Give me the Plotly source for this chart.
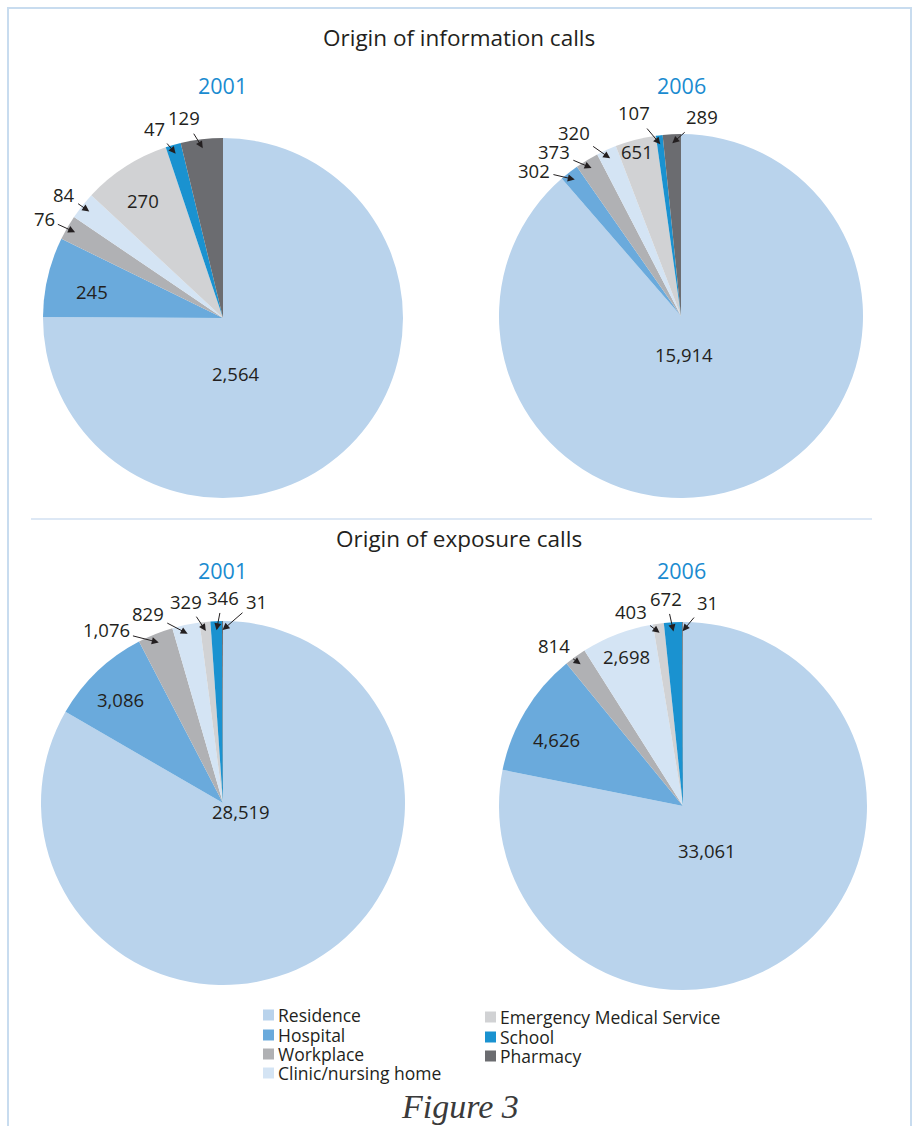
import math
import plotly.graph_objects as go

W, H = 916, 1126

# Call origins, in clockwise order starting at 12 o'clock
categories = ["Residence", "Hospital", "Workplace", "Clinic/nursing home",
              "Emergency Medical Service", "School", "Pharmacy"]
colors = ["#b9d3ec", "#6aaadc", "#b0b1b4", "#d4e4f4", "#d1d2d4", "#1a92d0", "#6b6c70"]

info_2001 = [2564, 245, 76, 84, 270, 47, 129]
info_2006 = [15914, 302, 373, 320, 651, 107, 289]
expo_2001 = [28519, 3086, 1076, 829, 329, 346, 31]
expo_2006 = [33061, 4626, 814, 2698, 403, 672, 31]

section_titles = ["Origin of information calls", "Origin of exposure calls"]
years = ["2001", "2006"]

FONT = "Open Sans, Noto Sans, sans-serif"
TXT = "#231f20"
BLUE = "#1a8bd0"
NUM_SIZE = 18.5


def px(x):
    return x / W


def py(y):
    return 1 - y / H


def text_at(x, y, text, size, color=TXT, family=FONT, xanchor="center"):
    return dict(x=px(x), y=py(y), xref="paper", yref="paper", text=text,
                showarrow=False, xanchor=xanchor, yanchor="middle",
                font=dict(family=family, size=size, color=color))


# Pie geometry (centre x, centre y, radius in pixels) and label placement:
# for each slice, (dx, dy) of the label centre from the pie centre and whether
# it sits inside the slice or outside with a pointer arrow.
pies = [
    dict(values=info_2001, cx=223, cy=318, r=180,
         place=[(13, 55, "in"), (-131, -26, "in"), (-179, -100, "out"), (-159, -124, "out"),
                (-80, -117, "in"), (-69, -190, "out"), (-39, -200, "out")]),
    dict(values=info_2006, cx=681, cy=316, r=182,
         place=[(3, 39, "in"), (-147, -146, "out"), (-127, -164, "out"), (-107, -183, "out"),
                (-44, -164, "in"), (-47, -203, "out"), (21, -199, "out")]),
    dict(values=expo_2001, cx=223, cy=803, r=182,
         place=[(18, 8, "in"), (-103, -104, "in"), (-117, -174, "out"), (-75, -190, "out"),
                (-37, -202, "out"), (0, -206, "out"), (33, -202, "out")]),
    dict(values=expo_2006, cx=683, cy=806, r=184,
         place=[(24, 44, "in"), (-127, -67, "in"), (-129, -161, "out"), (-57, -150, "in"),
                (-52, -195, "out"), (-17, -208, "out"), (24, -204, "out")]),
]

fig = go.Figure()
annotations = []

for p in pies:
    cx, cy, r = p["cx"], p["cy"], p["r"]
    fig.add_trace(go.Pie(
        labels=categories, values=p["values"], sort=False, direction="clockwise",
        rotation=0, marker=dict(colors=colors, line=dict(width=0)),
        textinfo="none", showlegend=False,
        domain=dict(x=[px(cx - r), px(cx + r)], y=[py(cy + r), py(cy - r)]),
    ))
    total = sum(p["values"])
    cum = 0
    for v, (dx, dy, mode) in zip(p["values"], p["place"]):
        mid = math.radians((cum + v / 2) / total * 360)
        cum += v
        label = f"{v:,}"
        tx, ty = cx + dx, cy + dy
        if mode == "in":
            annotations.append(text_at(tx, ty, label, NUM_SIZE))
        else:
            tipx = cx + 0.95 * r * math.sin(mid)
            tipy = cy - 0.95 * r * math.cos(mid)
            annotations.append(dict(x=px(tipx), y=py(tipy), xref="paper", yref="paper",
                                    text=label, showarrow=True, arrowhead=2, arrowsize=1.4,
                                    arrowwidth=1, arrowcolor=TXT,
                                    ax=tx - tipx, ay=ty - tipy, standoff=0, startstandoff=2,
                                    font=dict(family=FONT, size=NUM_SIZE, color=TXT)))

# Section titles and year headings
for title, y in zip(section_titles, [37, 538]):
    annotations.append(text_at(459, y, title, 22.5))
for y in [85, 570]:
    for yr, x in zip(years, [222, 681]):
        annotations.append(text_at(x, y, yr, 21.5, color=BLUE))

# Legend: two columns of colour swatches with labels
shapes = []
legend_cols = [(263, [1015, 1035, 1054, 1073]), (485, [1017, 1037, 1056])]
idx = 0
for x0, rows in legend_cols:
    for yc in rows:
        shapes.append(dict(type="rect", xref="paper", yref="paper",
                           x0=px(x0), x1=px(x0 + 11), y0=py(yc + 5.5), y1=py(yc - 5.5),
                           fillcolor=colors[idx], line=dict(width=0)))
        annotations.append(text_at(x0 + 13, yc, categories[idx], 17.5, xanchor="left"))
        idx += 1

annotations.append(text_at(460, 1106, "<i>Figure 3</i>", 34, color="#3a3a3a",
                           family="Liberation Serif, DejaVu Serif, serif"))

# Frame and separator line
shapes.append(dict(type="rect", xref="paper", yref="paper",
                   x0=px(8), x1=px(911), y0=py(1140), y1=py(8),
                   line=dict(color="#c8dcef", width=2), fillcolor="rgba(0,0,0,0)"))
shapes.append(dict(type="line", xref="paper", yref="paper",
                   x0=px(31), x1=px(872), y0=py(519), y1=py(519),
                   line=dict(color="#dde8f5", width=2)))

fig.update_layout(width=W, height=H, margin=dict(l=0, r=0, t=0, b=0),
                  paper_bgcolor="white", plot_bgcolor="white",
                  annotations=annotations, shapes=shapes, showlegend=False)

fig.write_html("out.html")
